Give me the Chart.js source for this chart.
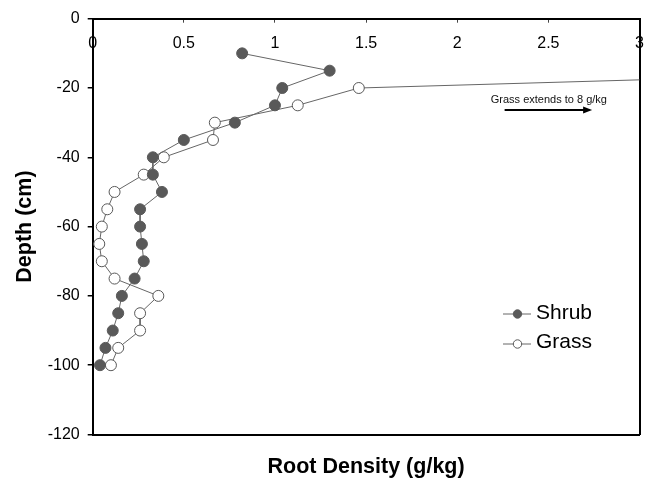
<!DOCTYPE html>
<html>
<head>
<meta charset="utf-8">
<script src="https://cdn.jsdelivr.net/npm/chart.js@4.4.1/dist/chart.umd.min.js"></script>
<style>
  body { margin: 0; background: #fff; }
  #wrap { position: relative; width: 646px; height: 481px; }
  #legend { position: absolute; left: 0; top: 0; font: 21px "Liberation Sans", Arial, sans-serif; color: #000; }
  #legend svg, #legend span { position: absolute; }
  #legend span { line-height: 30px; white-space: nowrap; }
</style>
</head>
<body>
<div id="wrap">
  <canvas id="chart" width="646" height="481"></canvas>
  <div id="legend"></div>
</div>
<script>
// depth (cm) and root density (g/kg)
const shrubDepth = [-10, -15, -20, -25, -30, -35, -40, -45, -50, -55, -60, -65, -70, -75, -80, -85, -90, -95, -100]
const shrubDensity = [0.82, 1.30, 1.04, 1.00, 0.78, 0.50, 0.33, 0.33, 0.38, 0.26, 0.26, 0.27, 0.28, 0.23, 0.16, 0.14, 0.11, 0.07, 0.04]

const grassDepth = [-10, -20, -25, -30, -35, -40, -45, -50, -55, -60, -65, -70, -75, -80, -85, -90, -95, -100]
const grassDensity = [8, 1.46, 1.125, 0.67, 0.66, 0.39, 0.28, 0.12, 0.08, 0.05, 0.036, 0.05, 0.12, 0.36, 0.26, 0.26, 0.14, 0.10]

const seriesNames = ['Shrub', 'Grass']
const xTitle = 'Root Density (g/kg)'
const yTitle = 'Depth (cm)'
const noteText = 'Grass extends to 8 g/kg'

const FONT = '"Liberation Sans", Arial, sans-serif'
const markColor = '#595959'
const lineColor = '#666666'

function toPoints(xs, ys) {
    return xs.map((v, i) => ({ x: v, y: ys[i] }))
}

// annotation placed in data units
const notePos = { x: 2.184, y: -23.5 }
const arrowFrom = { x: 2.26, y: -26.35 }
const arrowTo = { x: 2.74, y: -26.35 }

const notePlugin = {
    id: 'note',
    afterDatasetsDraw(chart) {
        const { ctx, scales: { x, y } } = chart
        ctx.save()
        ctx.font = '11px ' + FONT
        ctx.fillStyle = '#111'
        ctx.textBaseline = 'middle'
        ctx.fillText(noteText, x.getPixelForValue(notePos.x), y.getPixelForValue(notePos.y))
        const x1 = x.getPixelForValue(arrowFrom.x)
        const x2 = x.getPixelForValue(arrowTo.x)
        const yy = y.getPixelForValue(arrowFrom.y)
        ctx.strokeStyle = '#000'
        ctx.fillStyle = '#000'
        ctx.lineWidth = 2
        ctx.beginPath()
        ctx.moveTo(x1, yy)
        ctx.lineTo(x2 - 6, yy)
        ctx.stroke()
        ctx.beginPath()
        ctx.moveTo(x2, yy)
        ctx.lineTo(x2 - 9, yy - 3.5)
        ctx.lineTo(x2 - 9, yy + 3.5)
        ctx.closePath()
        ctx.fill()
        ctx.restore()
    }
}

// force axis box sizes and drop the edge-label padding
const fixSize = (w, h) => (scale) => {
    if (w !== null) scale.width = w
    if (h !== null) scale.height = h
    scale.paddingLeft = 0
    scale.paddingRight = 0
    scale.paddingTop = 0
    scale.paddingBottom = 0
}

new Chart('chart', {
    type: 'scatter',
    data: {
        datasets: [
            {
                label: seriesNames[1],
                data: toPoints(grassDensity, grassDepth),
                showLine: true,
                borderColor: lineColor,
                borderWidth: 1,
                pointRadius: 5.5,
                pointBackgroundColor: '#ffffff',
                pointBorderColor: markColor,
                pointBorderWidth: 1,
                clip: { left: 8, top: 8, right: 0, bottom: 8 },
                order: 2
            },
            {
                label: seriesNames[0],
                data: toPoints(shrubDensity, shrubDepth),
                showLine: true,
                borderColor: lineColor,
                borderWidth: 1,
                pointRadius: 5.5,
                pointBackgroundColor: markColor,
                pointBorderColor: markColor,
                pointBorderWidth: 1,
                clip: { left: 8, top: 8, right: 8, bottom: 8 },
                order: 1
            }
        ]
    },
    options: {
        responsive: false,
        animation: false,
        layout: { padding: 0 },
        plugins: { legend: { display: false }, tooltip: { enabled: false } },
        scales: {
            x: {
                type: 'linear',
                position: 'top',
                min: 0,
                max: 3,
                ticks: {
                    stepSize: 0.5, mirror: true, padding: 15, color: '#000', font: { family: FONT, size: 16 },
                    callback: (v) => String(+v.toFixed(1))
                },
                grid: { drawOnChartArea: false, drawTicks: true, tickLength: -4, color: '#444', lineWidth: 1 },
                border: { display: true, color: '#000', width: 2 },
                afterFit: fixSize(null, 18.7)
            },
            x2: {
                type: 'linear',
                position: 'bottom',
                min: 0,
                max: 3,
                ticks: { display: false },
                grid: { drawOnChartArea: false, drawTicks: false },
                border: { display: true, color: '#000', width: 2 },
                title: { display: true, text: xTitle, color: '#000', font: { family: FONT, size: 21.5, weight: 'bold' }, padding: { top: 0, bottom: 1 } },
                afterFit: fixSize(null, 46.5)
            },
            y: {
                type: 'linear',
                position: 'left',
                min: -120,
                max: 0,
                ticks: { stepSize: 20, padding: 8, color: '#000', font: { family: FONT, size: 16 } },
                grid: { drawOnChartArea: false, drawTicks: true, tickLength: 5, color: '#000', lineWidth: 1.5 },
                border: { display: true, color: '#000', width: 2 },
                title: { display: true, text: yTitle, color: '#000', font: { family: FONT, size: 21.5, weight: 'bold' }, padding: { top: 12, bottom: 0 } },
                afterFit: fixSize(92.7, null)
            },
            y2: {
                type: 'linear',
                position: 'right',
                min: -120,
                max: 0,
                ticks: { display: false },
                grid: { drawOnChartArea: false, drawTicks: false },
                border: { display: true, color: '#000', width: 2 },
                afterFit: fixSize(5.3, null)
            }
        }
    },
    plugins: [notePlugin]
})

// legend: line with marker, then the series name
const legendEl = document.getElementById('legend')
const legendFill = [markColor, '#ffffff']
const legendIconY = [314.3, 343.5]
const legendTextY = [311.7, 341.2]
seriesNames.forEach((name, i) => {
    legendEl.innerHTML += `<svg width="28" height="14" style="left:502.5px;top:${legendIconY[i] - 7}px">
        <line x1="0" y1="7" x2="28" y2="7" stroke="${lineColor}" stroke-width="1"/>
        <circle cx="14.5" cy="7" r="4.2" fill="${legendFill[i]}" stroke="${markColor}" stroke-width="1"/>
      </svg>
      <span style="left:536px;top:${legendTextY[i] - 15}px">${name}</span>`
})
</script>
</body>
</html>
